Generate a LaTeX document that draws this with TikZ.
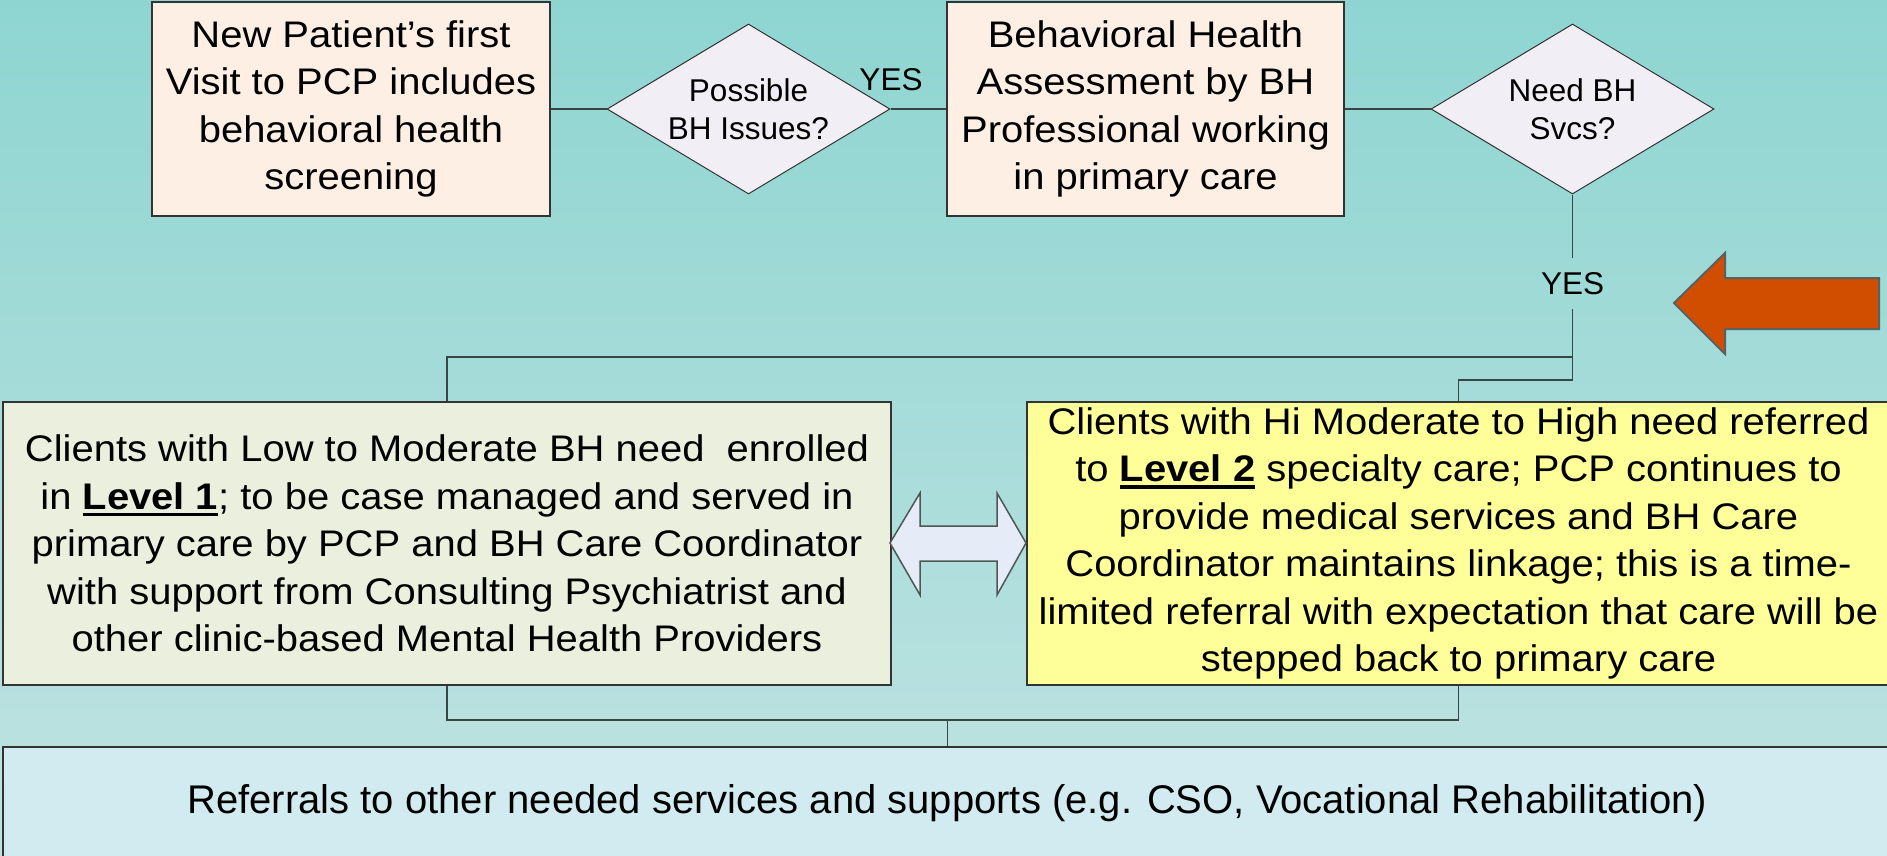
\documentclass[tikz,border=0pt]{standalone}
\usepackage{fontspec}
\setmainfont{Liberation Sans}
\newfontfamily\widefont[FakeStretch=1.08]{Liberation Sans}
\usetikzlibrary{shapes.geometric}
\definecolor{bgtop}{HTML}{8ED5D1}
\definecolor{bgbot}{HTML}{C0E3E2}
\definecolor{peach}{HTML}{FDEFE4}
\definecolor{diafill}{HTML}{F1EFF5}
\definecolor{greenbox}{HTML}{EBEFDD}
\definecolor{yellowbox}{HTML}{FFFF99}
\definecolor{bluebox}{HTML}{D1EBF0}
\definecolor{darrow}{HTML}{E6ECF7}
\definecolor{orangearrow}{HTML}{D14D00}
\definecolor{boxline}{HTML}{333333}
\definecolor{connc}{HTML}{3A4444}
\newcommand\lvl[1]{{\bfseries\setbox0\hbox{#1}\rlap{\rule[-7pt]{\wd0}{3.5pt}}\box0}}
\begin{document}
\begin{tikzpicture}[x=1pt,y=-1pt,
  box/.style={draw=boxline, line width=1.5pt, inner sep=0pt, align=center,
    font=\widefont\fontsize{37}{47.5}\selectfont},
  dia/.style={diamond, draw=boxline, line width=1pt, fill=diafill, inner sep=0pt,
    minimum width=283pt, minimum height=170pt},
  diatext/.style={align=center, font=\fontsize{31.5}{37.5}\selectfont},
  yeslbl/.style={inner sep=0pt, font=\fontsize{31.5}{37.5}\selectfont},
  conn/.style={draw=connc, line width=1.5pt},
  blockarrow/.style={line width=1.5pt, line join=miter}]
\useasboundingbox (0,0) rectangle (1887,855);
\clip (0,0) rectangle (1887,855);
\shade[top color=bgtop, bottom color=bgbot] (0,0) rectangle (1887,855);

% top row
\node[box, fill=peach, minimum width=398pt, minimum height=214pt] (b1) at (351,109)
  {New Patient’s first\\Visit to PCP includes\\behavioral health\\screening};
\node[dia, label={[diatext]center:Possible\\BH Issues?}] (d1) at (748.5,109) {};
\node[box, fill=peach, minimum width=397pt, minimum height=214pt] (b2) at (1145.5,109)
  {Behavioral Health\\Assessment by BH\\Professional working\\in primary care};
\node[dia, label={[diatext]center:Need BH\\Svcs?}] (d2) at (1572.5,109) {};
\node[yeslbl] (yes1) at (891,79.5) {YES};
\node[yeslbl, minimum height=51pt] (yes2) at (1572.5,283.5) {YES};

% middle row
\node[box, fill=greenbox, minimum width=888pt, minimum height=283pt] (b3) at (447,543.5)
  {Clients with Low to Moderate BH need~ enrolled\\
   in \lvl{Level 1}; to be case managed and served in\\
   primary care by PCP and BH Care Coordinator\\
   with support from Consulting Psychiatrist and\\
   other clinic-based Mental Health Providers};
\node[box, fill=yellowbox, minimum width=863pt, minimum height=283pt] (b4) at (1458.5,543.5)
  {Clients with Hi Moderate to High need referred\\
   to \lvl{Level 2} specialty care; PCP continues to\\
   provide medical services and BH Care\\
   Coordinator maintains linkage; this is a time-\\
   limited referral with expectation that care will be\\
   stepped back to primary care};

% bottom box
\node[box, fill=bluebox, minimum width=1889pt, minimum height=112pt,
  font=\fontsize{40}{47}\selectfont] (b5) at (947.5,803)
  {Referrals to other needed services and supports (e.g. CSO, Vocational Rehabilitation)};

% connectors
\coordinate (j1) at (1572.5,357);
\coordinate (j2) at (1572.5,380);
\coordinate (j3) at (947.5,720);
\draw[conn] (b1.east) -- (d1.west);
\draw[conn] (d1.east) -- (b2.west);
\draw[conn] (b2.east) -- (d2.west);
\draw[conn] (d2.south) -- (yes2.north);
\draw[conn] (yes2.south) -- (j1) -| (b3.north);
\draw[conn] (j1) -- (j2) -| (b4.north);
\draw[conn] (b3.south) |- (j3);
\draw[conn] (b4.south) |- (j3);
\draw[conn] (j3) -- (b5.north);

% double block arrow between the two level boxes
\filldraw[blockarrow, fill=darrow, draw=connc!90]
  (890,543) -- (920,493) -- (920,526) -- (997,526) -- (997,493) -- (1026,543)
  -- (997,595) -- (997,561) -- (920,561) -- (920,595) -- cycle;

% big orange arrow
\filldraw[blockarrow, fill=orangearrow, draw=connc!85, line width=2pt]
  (1674,303) -- (1725,253) -- (1725,278) -- (1879,278) -- (1879,329)
  -- (1725,329) -- (1725,354) -- cycle;
\end{tikzpicture}
\end{document}
